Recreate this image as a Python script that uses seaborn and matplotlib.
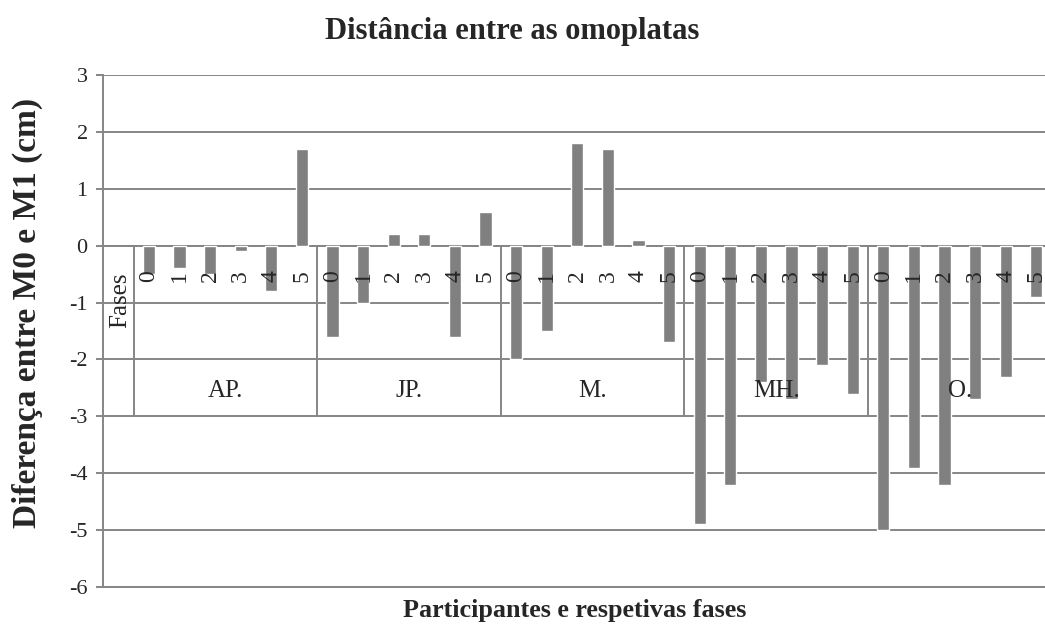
import matplotlib
matplotlib.use('Agg')
import matplotlib.pyplot as plt
import seaborn as sns
import pandas as pd

# data
participants = ['AP.', 'JP.', 'M.', 'MH.', 'O.']
phases = ['0', '1', '2', '3', '4', '5']
ap_vals = [-0.5, -0.4, -0.5, -0.1, -0.8, 1.7]
jp_vals = [-1.6, -1.0, 0.2, 0.2, -1.6, 0.6]
m_vals = [-2.0, -1.5, 1.8, 1.7, 0.1, -1.7]
mh_vals = [-4.9, -4.2, -2.4, -2.7, -2.1, -2.6]
o_vals = [-5.0, -3.9, -4.2, -2.7, -2.3, -0.9]
y_ticks = [-6, -5, -4, -3, -2, -1, 0, 1, 2, 3]

rows = []
for p, vals in zip(participants, [ap_vals, jp_vals, m_vals, mh_vals, o_vals]):
    for ph, v in zip(phases, vals):
        rows.append({'key': p + ph, 'participant': p, 'fase': ph, 'valor': v})
df = pd.DataFrame(rows)
order = ['Fases'] + df['key'].tolist()

sns.set_theme(style='white')
plt.rcParams['font.family'] = ['Liberation Serif', 'DejaVu Serif']

grid_col = '#868686'
fig = plt.figure(figsize=(10.45, 6.25), dpi=100)
ax = fig.add_axes([103 / 1045, 1 - 587 / 625, (1051.6 - 103) / 1045, (587 - 75) / 625])

sns.barplot(data=df, x='key', y='valor', order=order, color='#808080',
            saturation=1, width=0.4, ax=ax, zorder=3)

ax.set_ylim(-6, 3)
ax.set_xlim(-0.5, len(order) - 0.5)
ax.set_yticks(y_ticks)
ax.set_yticklabels([str(t) for t in y_ticks], fontsize=16)
ax.yaxis.grid(True, color=grid_col, linewidth=1.4, zorder=0)
ax.set_axisbelow(True)
ax.set_xticks([])
ax.tick_params(axis='y', direction='out', length=5, width=1.4, color=grid_col, left=True, pad=6)

for s in ['top', 'right']:
    ax.spines[s].set_visible(False)
for s in ['left', 'bottom']:
    ax.spines[s].set_color(grid_col)
    ax.spines[s].set_linewidth(1.4)

# category table drawn at y = 0 (Excel style multi-level axis)
bounds = [0.5 + 6 * k for k in range(len(participants))]
ax.vlines(bounds, -3, 0, color=grid_col, linewidth=1.4, zorder=2)
ax.axhline(0, color=grid_col, linewidth=1.4, zorder=2)

ax.text(0.05, -0.96, 'Fases', rotation=90, ha='center', va='center', fontsize=18, zorder=5)
for i, row in df.iterrows():
    ax.text(i + 1, -0.54, row['fase'], rotation=90, ha='center', va='center',
            fontsize=17, zorder=5)
for k, p in enumerate(participants):
    ax.text(3.5 + 6 * k, -2.55, p, ha='center', va='center', fontsize=18, zorder=5)

ax.set_xlabel('')
ax.set_ylabel('')
fig.text(575 / 1045, 1 - 610 / 625, 'Participantes e respetivas fases', ha='center',
         va='center', fontsize=18.8, fontweight='bold')
fig.text(27 / 1045, 1 - 313 / 625, 'Diferença entre M0 e M1 (cm)', ha='center',
         va='center', rotation=90, fontsize=24, fontweight='bold')
fig.text(512 / 1045, 1 - 31 / 625, 'Distância entre as omoplatas', ha='center',
         va='center', fontsize=22, fontweight='bold')

fig.savefig('out.png', dpi=100)
